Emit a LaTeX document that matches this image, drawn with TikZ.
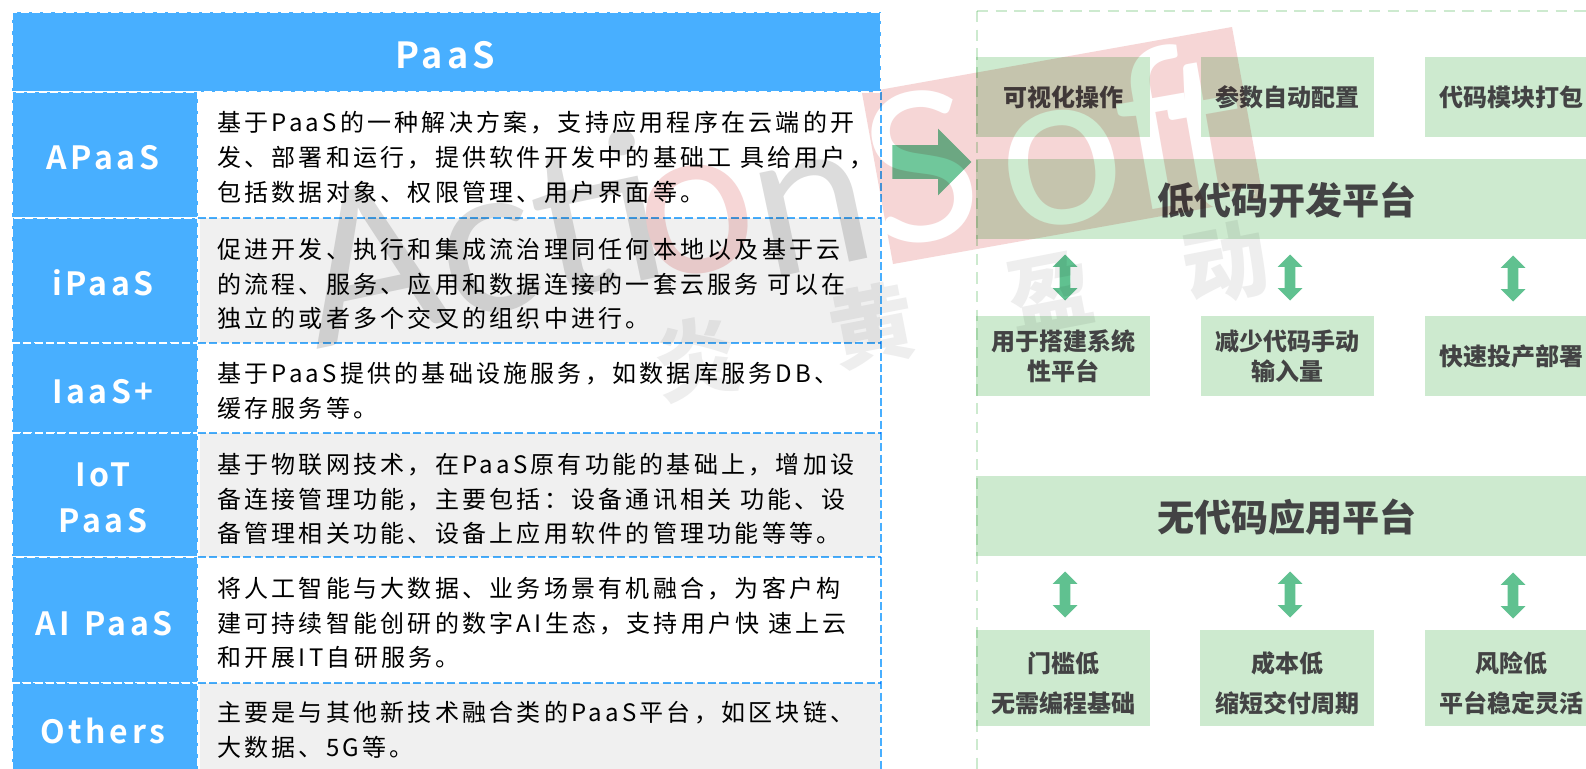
\documentclass[tikz,border=0pt]{standalone}
\usepackage{fontspec}
\usetikzlibrary{shapes.arrows}
\setmainfont{Noto Sans CJK SC}
\newfontfamily\bodyfont[LetterSpace=13.5]{Noto Sans CJK SC}
\newfontfamily\labfont[LetterSpace=11,BoldFont={Noto Sans CJK SC Bold}]{Noto Sans CJK SC Bold}
\newfontfamily\markfont{Lato}
\newfontfamily\softfont[Ligatures=NoCommon]{Lato}
\definecolor{tblue}{RGB}{72,175,255}
\definecolor{tgray}{RGB}{240,240,240}
\definecolor{pgreen}{RGB}{205,234,207}
\definecolor{agreen}{RGB}{96,193,144}
\definecolor{bgreen}{RGB}{112,199,155}
\definecolor{pinkm}{RGB}{246,214,214}
\definecolor{grayA}{RGB}{220,220,220}
\definecolor{grayB}{RGB}{238,238,238}
\definecolor{ink}{RGB}{84,74,84}
\tikzset{
 hdrcell/.style={fill=tblue,draw=white,line width=1.5pt,dash pattern=on 6pt off 2.5pt},
 labcell/.style={fill=tblue,draw=white,line width=1.5pt,dash pattern=on 6pt off 2.5pt},
 labtext/.style={text=white,font=\labfont\fontsize{24}{34.5}\selectfont,align=center,inner sep=0pt},
 bodytext/.style={anchor=west,inner sep=0pt,text=black,align=left,font=\bodyfont\fontsize{18}{26.1}\selectfont},
 rowline/.style={draw=tblue,line width=1.5pt,dash pattern=on 6pt off 2.5pt},
 gbox/.style={fill=pgreen},
 gtext/.style={text=ink,inner sep=0pt,align=center,font=\bfseries\fontsize{18}{22.5}\selectfont},
 gtextwide/.style={text=ink,inner sep=0pt,align=center,font=\bfseries\fontsize{18}{30}\selectfont},
 gtitle/.style={text=ink,inner sep=0pt,font=\bfseries\fontsize{27.8}{32}\selectfont},
 darrow/.style={double arrow,fill=agreen,inner xsep=0pt,inner ysep=3.75pt,rotate=90,minimum height=34.5pt,double arrow head extend=5.25pt,double arrow tip angle=90},
 markgray/.style={text=grayA,inner sep=0pt,rotate=12,font=\markfont\fontsize{156}{156}\selectfont},
 markcjk/.style={text=grayB,inner sep=0pt,rotate=11,font=\bfseries\fontsize{64}{64}\selectfont},
 marksoft/.style={inner sep=0pt,rotate=10,text=white,font=\softfont\fontsize{165}{165}\selectfont},
}
\begin{document}
\begin{tikzpicture}[x=0.75pt,y=-0.75pt]
\useasboundingbox (0,0) rectangle (1586,768);
\clip (0,0) rectangle (1586,768);
\fill[white] (0,0) rectangle (1586,768);
% watermark underlay
\fill[pinkm] (862,93) -- (1232,27) -- (1263,198) -- (893,264) -- cycle;
\node[marksoft,font=\softfont\fontsize{155}{155}\selectfont] (wms) at (921,167) {S};
\node[marksoft] (wmo2) at (1062,168) {o};
\node[marksoft] (wmf) at (1155,128) {f};
\node[marksoft] (wmt) at (1208,137) {t};
\node[markgray] (wma) at (480,238) {Acti};
\node[markgray,text=pinkm] (wmo) at (697,220) {o};
\node[markgray] (wmn) at (813,215) {n};
\node[markcjk] (wm1) at (697,358) {炎};
\node[markcjk] (wm2) at (872,326) {黄};
\node[markcjk] (wm3) at (1050,293) {盈};
\node[markcjk] (wm4) at (1225,263) {动};
% left labels
\path[hdrcell] (12,12) rectangle (881,92);
\node[inner sep=0pt,text=white,font=\labfont\fontsize{27}{32}\selectfont] (title) at (445,55) {PaaS};
\path[labcell] (12,92) rectangle (198,218);
\path[labcell] (12,218) rectangle (198,343);
\path[labcell] (12,343) rectangle (198,433);
\path[labcell] (12,433) rectangle (198,557);
\path[labcell] (12,557) rectangle (198,683);
\path[labcell] (12,683) rectangle (198,790);
\node[labtext] (l1) at (103,158) {APaaS};
\node[labtext] (l2) at (103,283) {iPaaS};
\node[labtext] (l3) at (103,392) {IaaS+};
\node[labtext] (l4) at (103,498) {IoT\\PaaS};
\node[labtext] (l5) at (104,624) {AI\hspace{0.1em} PaaS};
\node[labtext] (l6) at (103,731) {Others};
\begin{scope}[blend mode=multiply]
\fill[tgray] (200,218) rectangle (880,343);
\fill[tgray] (200,433) rectangle (880,557);
\fill[tgray] (200,683) rectangle (880,790);
\draw[rowline] (198,218) -- (881,218);
\draw[rowline] (198,343) -- (881,343);
\draw[rowline] (198,433) -- (881,433);
\draw[rowline] (198,557) -- (881,557);
\draw[rowline] (198,683) -- (881,683);
\draw[rowline] (881,92) -- (881,790);
\node[bodytext] (t1) at (217,157.5) {基于PaaS的一种解决方案，支持应用程序在云端的开\\发、部署和运行，提供软件开发中的基础工 具给用户，\\包括数据对象、权限管理、用户界面等。};
\node[bodytext] (t2) at (217,284) {促进开发、执行和集成流治理同任何本地以及基于云\\的流程、服务、应用和数据连接的一套云服务 可以在\\独立的或者多个交叉的组织中进行。};
\node[bodytext] (t3) at (217,390.5) {基于PaaS提供的基础设施服务，如数据库服务DB、\\缓存服务等。};
\node[bodytext] (t4) at (217,499) {基于物联网技术，在PaaS原有功能的基础上，增加设\\备连接管理功能，主要包括：设备通讯相关 功能、设\\备管理相关功能、设备上应用软件的管理功能等等。};
\node[bodytext] (t5) at (217,623) {将人工智能与大数据、业务场景有机融合，为客户构\\建可持续智能创研的数字AI生态，支持用户快 速上云\\和开展IT自研服务。};
\node[bodytext] (t6) at (217,730) {主要是与其他新技术融合类的PaaS平台，如区块链、\\大数据、5G等。};
% big arrow
\node[single arrow,fill=bgreen,inner xsep=0pt,inner ysep=12.4pt,minimum height=59.25pt,single arrow head extend=12.4pt,single arrow tip angle=90] (bigarrow) at (923.5,162) {};
% right frame
\draw[pgreen,line width=1.5pt,dash pattern=on 8.5pt off 5.5pt] (977,11) -- (1620,11);
\draw[pgreen,line width=1.5pt,dash pattern=on 8.5pt off 5.5pt] (977,11) -- (977,790);
\path[gbox] (976,57) rectangle (1150,137);
\path[gbox] (1201,57) rectangle (1374,137);
\path[gbox] (1425,57) rectangle (1599,137);
\path[gbox] (976,159) rectangle (1599,239);
\path[gbox] (976,316) rectangle (1150,396);
\path[gbox] (1201,316) rectangle (1374,396);
\path[gbox] (1425,316) rectangle (1599,396);
\path[gbox] (976,476) rectangle (1599,556);
\path[gbox] (976,630) rectangle (1150,726);
\path[gbox] (1200,630) rectangle (1374,726);
\path[gbox] (1425,630) rectangle (1599,726);
\node[gtext] (a1) at (1063,97) {可视化操作};
\node[gtext] (a2) at (1287,97) {参数自动配置};
\node[gtext] (a3) at (1511,97) {代码模块打包};
\node[gtitle] (b1) at (1287,200) {低代码开发平台};
\node[gtext] (c1) at (1063,356) {用于搭建系统\\性平台};
\node[gtext] (c2) at (1287,356) {减少代码手动\\输入量};
\node[gtext] (c3) at (1511,356) {快速投产部署};
\node[gtitle] (b2) at (1287,517) {无代码应用平台};
\node[gtextwide] (d1) at (1063,683) {门槛低\\无需编程基础};
\node[gtextwide] (d2) at (1287,683) {成本低\\缩短交付周期};
\node[gtextwide] (d3) at (1511,683) {风险低\\平台稳定灵活};
\node[darrow] (e1) at (1065,277.5) {};
\node[darrow] (e2) at (1290,277.5) {};
\node[darrow] (e3) at (1513,278.5) {};
\node[darrow] (e4) at (1065,594.5) {};
\node[darrow] (e5) at (1290,594.5) {};
\node[darrow] (e6) at (1513,595.5) {};
\end{scope}
\end{tikzpicture}
\end{document}
